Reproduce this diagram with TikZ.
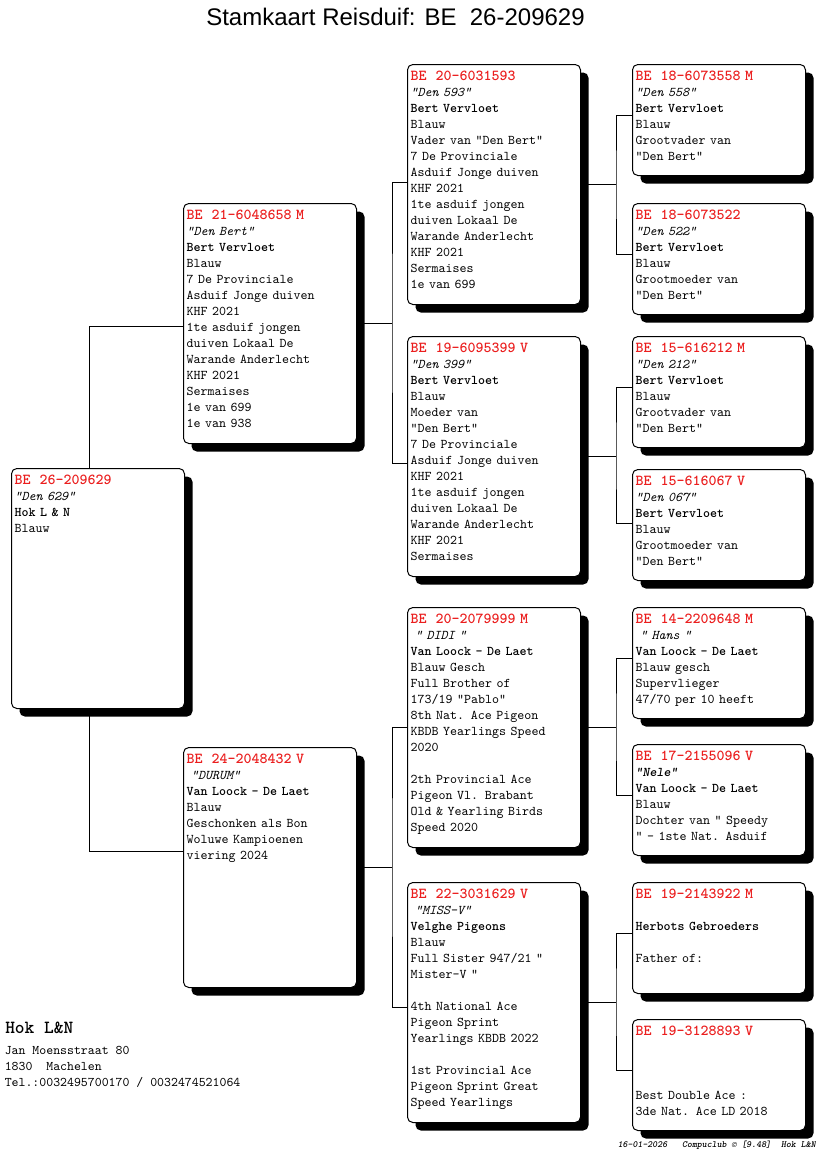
\documentclass[tikz,border=0pt]{standalone}
\usepackage{fontspec}
\setsansfont{Liberation Sans}
\usetikzlibrary{shadows,backgrounds}
\definecolor{ringrood}{RGB}{235,30,30}
\newcommand{\ringnr}[1]{{\fontsize{11.43}{12}\selectfont\bfseries\color{ringrood}#1}}
\setlength{\parindent}{0pt}
\tikzset{
    kaart/.style={draw, line width=0.75pt, rounded corners=4pt, fill=white,
        minimum width=129.75pt, inner sep=0pt, anchor=north west,
        drop shadow={shadow xshift=6pt, shadow yshift=-6pt, fill=black, opacity=1}},
    groot/.style={kaart, minimum height=180pt},
    klein/.style={kaart, minimum height=83.25pt},
    inhoud/.style={anchor=north west, align=left, text width=125pt,
        inner xsep=2.6pt, inner ysep=4.1pt,
        font=\ttfamily\fontsize{10}{12}\selectfont,
        execute at begin node=\strut},
    lijn/.style={line width=0.75pt}
}
\begin{document}
\begin{tikzpicture}[x=0.75pt, y=-0.75pt]
    \useasboundingbox (0,0) rectangle (816,1172);
    \node[font=\sffamily\fontsize{18}{20}\selectfont, anchor=base] (titel) at (395.5,25.5) {Stamkaart Reisduif: BE\ \ 26-209629};

    \node[groot] (g0) at (11,468) {};
    \node[inhoud] (g0-t) at (g0.north west) {\ringnr{BE\ \ 26-209629}\\ \textit{"Den 629"}\\ \textbf{Hok L \& N}\\ Blauw};

    \node[groot] (v) at (183,203) {};
    \node[inhoud] (v-t) at (v.north west) {\ringnr{BE\ \ 21-6048658 M}\\ \textit{"Den Bert"}\\ \textbf{Bert Vervloet}\\ Blauw\\ 7 De Provinciale\\ Asduif Jonge duiven\\ KHF 2021\\ 1te asduif jongen\\ duiven Lokaal De\\ Warande Anderlecht\\ KHF 2021\\ Sermaises\\ 1e van 699\\ 1e van 938};
    \node[groot] (m) at (183,747) {};
    \node[inhoud] (m-t) at (m.north west) {\ringnr{BE\ \ 24-2048432 V}\\ \ \textit{"DURUM"}\\ \textbf{Van Loock - De Laet}\\ Blauw\\ Geschonken als Bon\\ Woluwe Kampioenen\\ viering 2024};

    \node[groot] (vv) at (407,64) {};
    \node[inhoud] (vv-t) at (vv.north west) {\ringnr{BE\ \ 20-6031593}\\ \textit{"Den 593"}\\ \textbf{Bert Vervloet}\\ Blauw\\ Vader van "Den Bert"\\ 7 De Provinciale\\ Asduif Jonge duiven\\ KHF 2021\\ 1te asduif jongen\\ duiven Lokaal De\\ Warande Anderlecht\\ KHF 2021\\ Sermaises\\ 1e van 699};
    \node[groot] (vm) at (407,336) {};
    \node[inhoud] (vm-t) at (vm.north west) {\ringnr{BE\ \ 19-6095399 V}\\ \textit{"Den 399"}\\ \textbf{Bert Vervloet}\\ Blauw\\ Moeder van\\ "Den Bert"\\ 7 De Provinciale\\ Asduif Jonge duiven\\ KHF 2021\\ 1te asduif jongen\\ duiven Lokaal De\\ Warande Anderlecht\\ KHF 2021\\ Sermaises};
    \node[groot] (mv) at (407,607) {};
    \node[inhoud] (mv-t) at (mv.north west) {\ringnr{BE\ \ 20-2079999 M}\\ \ \textit{" DIDI "}\\ \textbf{Van Loock - De Laet}\\ Blauw Gesch\\ Full Brother of\\ 173/19 "Pablo"\\ 8th Nat. Ace Pigeon\\ KBDB Yearlings Speed\\ 2020\\ \mbox{}\\ 2th Provincial Ace\\ Pigeon Vl. Brabant\\ Old \& Yearling Birds\\ Speed 2020};
    \node[groot] (mm) at (407,882) {};
    \node[inhoud] (mm-t) at (mm.north west) {\ringnr{BE\ \ 22-3031629 V}\\ \ \textit{"MISS-V"}\\ \textbf{Velghe Pigeons}\\ Blauw\\ Full Sister 947/21 "\\ Mister-V "\\ \mbox{}\\ 4th National Ace\\ Pigeon Sprint\\ Yearlings KBDB 2022\\ \mbox{}\\ 1st Provincial Ace\\ Pigeon Sprint Great\\ Speed Yearlings};

    \node[klein] (vvv) at (632,64) {};
    \node[inhoud] (vvv-t) at (vvv.north west) {\ringnr{BE\ \ 18-6073558 M}\\ \textit{"Den 558"}\\ \textbf{Bert Vervloet}\\ Blauw\\ Grootvader van\\ "Den Bert"};
    \node[klein] (vvm) at (632,203) {};
    \node[inhoud] (vvm-t) at (vvm.north west) {\ringnr{BE\ \ 18-6073522}\\ \textit{"Den 522"}\\ \textbf{Bert Vervloet}\\ Blauw\\ Grootmoeder van\\ "Den Bert"};
    \node[klein] (vmv) at (632,336) {};
    \node[inhoud] (vmv-t) at (vmv.north west) {\ringnr{BE\ \ 15-616212 M}\\ \textit{"Den 212"}\\ \textbf{Bert Vervloet}\\ Blauw\\ Grootvader van\\ "Den Bert"};
    \node[klein] (vmm) at (632,469) {};
    \node[inhoud] (vmm-t) at (vmm.north west) {\ringnr{BE\ \ 15-616067 V}\\ \textit{"Den 067"}\\ \textbf{Bert Vervloet}\\ Blauw\\ Grootmoeder van\\ "Den Bert"};
    \node[klein] (mvv) at (632,607) {};
    \node[inhoud] (mvv-t) at (mvv.north west) {\ringnr{BE\ \ 14-2209648 M}\\ \ \textit{" Hans "}\\ \textbf{Van Loock - De Laet}\\ Blauw gesch\\ Supervlieger\\ 47/70 per 10 heeft};
    \node[klein] (mvm) at (632,744) {};
    \node[inhoud] (mvm-t) at (mvm.north west) {\ringnr{BE\ \ 17-2155096 V}\\ \textbf{\textit{"Nele"}}\\ \textbf{Van Loock - De Laet}\\ Blauw\\ Dochter van " Speedy\\ " - 1ste Nat. Asduif};
    \node[klein] (mmv) at (632,882) {};
    \node[inhoud] (mmv-t) at (mmv.north west) {\ringnr{BE\ \ 19-2143922 M}\\ \mbox{}\\ \textbf{Herbots Gebroeders}\\ \mbox{}\\ Father of:};
    \node[klein] (mmm) at (632,1019) {};
    \node[inhoud] (mmm-t) at (mmm.north west) {\ringnr{BE\ \ 19-3128893 V}\\ \mbox{}\\ \mbox{}\\ \mbox{}\\ Best Double Ace :\\ 3de Nat. Ace LD 2018};

    \begin{scope}[on background layer]
        \draw[lijn] ([yshift=-2.6pt]v.west) -| ([xshift=-6.4pt]g0.center) |- ([yshift=12pt]m.west);
        \draw[lijn] (v.east) -- ++(35,0) coordinate (vk);
        \draw[lijn] ([yshift=1.5pt]vv.west) -| (vk) |- ([yshift=-5.25pt]vm.west);
        \draw[lijn] (m.east) -- ++(35,0) coordinate (mk);
        \draw[lijn] (mv.west) -| (mk) |- ([yshift=-3.75pt]mm.west);
        \draw[lijn] (vv.east) -- ++(35,0) coordinate (vvk);
        \draw[lijn] ([yshift=3.4pt]vvv.west) -| (vvk) |- ([yshift=3.4pt]vvm.west);
        \draw[lijn] (vm.east) -- ++(35,0) coordinate (vmk);
        \draw[lijn] ([yshift=3.4pt]vmv.west) -| (vmk) |- ([yshift=1.1pt]vmm.west);
        \draw[lijn] (mv.east) -- ++(35,0) coordinate (mvk);
        \draw[lijn] ([yshift=3.4pt]mvv.west) -| (mvk) |- ([yshift=3.4pt]mvm.west);
        \draw[lijn] (mm.east) -- ++(35,0) coordinate (mmk);
        \draw[lijn] ([yshift=3.4pt]mmv.west) -| (mmk) |- ([yshift=3.4pt]mmm.west);
    \end{scope}

    \node[anchor=base west, inner sep=0pt, font=\ttfamily\bfseries\fontsize{13.9}{16}\selectfont] (hok) at (5,1033) {Hok L\&N};
    \node[anchor=north west, inner sep=0pt, align=left, font=\ttfamily\fontsize{9.9}{12}\selectfont] (adres) at (4.5,1046.5) {Jan Moensstraat 80\\1830\ \ Machelen\\Tel.:0032495700170 / 0032474521064};
    \node[anchor=base east, inner sep=0pt, font=\ttfamily\bfseries\itshape\fontsize{7.07}{8}\selectfont] (voet) at (816,1147.5) {16-01-2026\ \ \ Compuclub © [9.48]\ \ Hok L\&N};
\end{tikzpicture}
\end{document}
